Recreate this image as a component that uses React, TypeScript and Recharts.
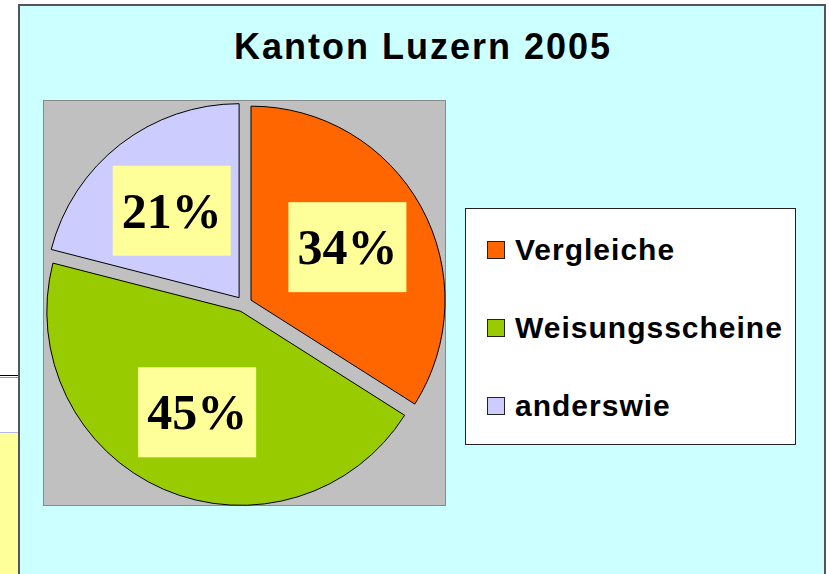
import React from "react";
import { PieChart, Pie, Cell, Legend } from "recharts";

// Kanton Luzern 2005 — exploded pie with yellow percent boxes
const categories = ["Vergleiche", "Weisungsscheine", "anderswie"];
const shares = [34, 45, 21];
const labels = ["34%", "45%", "21%"];
const colors = ["#FF6600", "#99CC00", "#CCCCFF"];

const data = categories.map((name, i) => ({ name, value: shares[i] }));

const W = 829;
const H = 574;
const CX = 244;
const CY = 304;
const RADIUS = 194;
const EXPLODE = 8;
const LABEL_R = 110;
const RAD = Math.PI / 180;

// mid angle of each slice, clockwise from 12 o'clock
const total = shares.reduce((a, b) => a + b, 0);
const midAngles = shares.map((v, i) => {
  const before = shares.slice(0, i).reduce((a, b) => a + b, 0);
  return ((before + v / 2) / total) * 360;
});

const renderLabel = (own: number) => (props: any) => {
  if (props.index !== own) return null;
  const a = props.midAngle * RAD;
  const x = props.cx + LABEL_R * Math.cos(a);
  const y = props.cy - LABEL_R * Math.sin(a);
  return (
    <g>
      <rect x={x - 59} y={y - 45} width={118} height={90} fill="#FFFF99" />
      <text
        x={x}
        y={y + 17}
        textAnchor="middle"
        fontFamily="'Liberation Serif', 'Times New Roman', serif"
        fontWeight="bold"
        fontSize={50}
        fill="#000"
      >
        {labels[own]}
      </text>
    </g>
  );
};

const LegendBox = () => (
  <div
    style={{
      position: "relative",
      width: 331,
      height: 237,
      background: "#fff",
      border: "1px solid #222",
      boxSizing: "border-box",
    }}
  >
    {categories.map((c, i) => (
      <div
        key={c}
        style={{
          position: "absolute",
          left: 21,
          top: 41 + i * 78 - 18,
          height: 36,
          display: "flex",
          alignItems: "center",
        }}
      >
        <span
          style={{
            display: "inline-block",
            width: 16,
            height: 16,
            background: colors[i],
            border: "1px solid #222",
            marginRight: 10,
          }}
        />
        <span
          style={{
            fontFamily: "'Liberation Sans', Arial, sans-serif",
            fontWeight: "bold",
            fontSize: 30,
            letterSpacing: 1,
            color: "#000",
            lineHeight: "36px",
          }}
        >
          {c}
        </span>
      </div>
    ))}
  </div>
);

export default function App() {
  return (
    <div
      style={{
        position: "absolute",
        left: 0,
        top: 0,
        width: W,
        height: H,
        background: "#fff",
        overflow: "hidden",
      }}
    >
      {/* slide remnants on the left */}
      <div style={{ position: "absolute", left: 0, top: 375, width: 19, height: 1, background: "#000" }} />
      <div style={{ position: "absolute", left: 0, top: 377, width: 19, height: 1, background: "#999" }} />
      <div style={{ position: "absolute", left: 0, top: 432, width: 19, height: 1, background: "#B8B8E8" }} />
      <div style={{ position: "absolute", left: 0, top: 433, width: 19, height: H - 433, background: "#FFFF99" }} />

      {/* chart area */}
      <div
        style={{
          position: "absolute",
          left: 18,
          top: 4,
          width: 808,
          height: H + 10,
          background: "#CCFFFF",
          border: "2px solid #555",
          boxSizing: "border-box",
        }}
      />
      <div
        style={{
          position: "absolute",
          left: 0,
          top: 27,
          width: 846,
          textAlign: "center",
          fontFamily: "'Liberation Sans', Arial, sans-serif",
          fontWeight: "bold",
          fontSize: 36,
          letterSpacing: 2,
          lineHeight: "40px",
          color: "#000",
        }}
      >
        Kanton Luzern 2005
      </div>
      <div
        style={{
          position: "absolute",
          left: 43,
          top: 100,
          width: 403,
          height: 406,
          background: "#C0C0C0",
          border: "1px solid #888",
          boxSizing: "border-box",
        }}
      />

      <div style={{ position: "absolute", left: 0, top: 0 }}>
        <PieChart width={W} height={H} margin={{ top: 0, right: 0, bottom: 0, left: 0 }}>
          {shares.map((_, own) => (
            <Pie
              key={own}
              data={data}
              dataKey="value"
              nameKey="name"
              cx={CX + EXPLODE * Math.sin(midAngles[own] * RAD)}
              cy={CY - EXPLODE * Math.cos(midAngles[own] * RAD)}
              outerRadius={RADIUS}
              startAngle={90}
              endAngle={-270}
              isAnimationActive={false}
              labelLine={false}
              label={renderLabel(own)}
            >
              {data.map((d, i) => (
                <Cell
                  key={d.name}
                  fill={i === own ? colors[i] : "none"}
                  stroke={i === own ? "#000" : "none"}
                  strokeWidth={1}
                />
              ))}
            </Pie>
          ))}
          <Legend
            content={() => <LegendBox />}
            wrapperStyle={{ position: "absolute", left: 465, top: 208, width: 331, height: 237 }}
          />
        </PieChart>
      </div>
    </div>
  );
}
